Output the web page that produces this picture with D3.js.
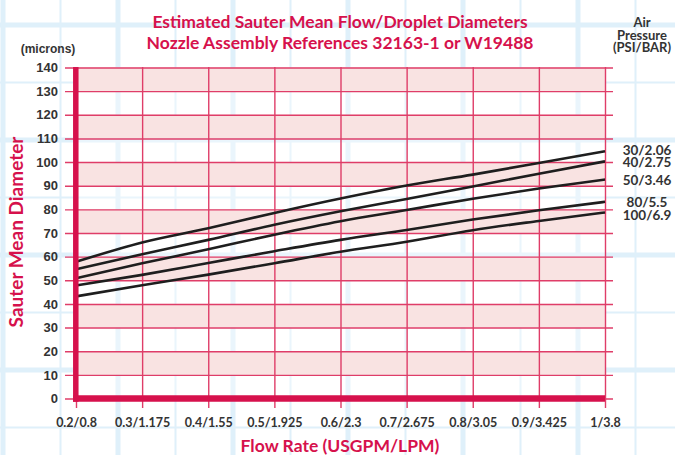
<!DOCTYPE html>
<html><head><meta charset="utf-8">
<script src="https://cdn.jsdelivr.net/npm/d3@7/dist/d3.min.js"></script>
<style>
html,body{margin:0;padding:0;background:#fff;}
svg{display:block;}
</style></head>
<body>
<svg id="chart" width="675" height="455"></svg>
<script>
// ---- data ----
const flowValues = [0.2, 0.3, 0.4, 0.5, 0.6, 0.7, 0.8, 0.9, 1.0];
const flowLabels = ["0.2/0.8", "0.3/1.175", "0.4/1.55", "0.5/1.925", "0.6/2.3", "0.7/2.675", "0.8/3.05", "0.9/3.425", "1/3.8"];
const yTicks = [0, 10, 20, 30, 40, 50, 60, 70, 80, 90, 100, 110, 120, 130, 140];
const seriesNames = ["30/2.06", "40/2.75", "50/3.46", "80/5.5", "100/6.9"];
const psi30 = [57.8, 66.0, 72.0, 78.5, 84.6, 90.1, 94.7, 99.6, 104.6];
const psi40 = [54.7, 61.0, 67.1, 73.5, 79.2, 84.4, 89.7, 95.1, 100.3];
const psi50 = [50.9, 57.2, 63.1, 69.3, 75.0, 79.7, 84.5, 88.8, 92.6];
const psi80 = [47.8, 52.3, 57.3, 62.3, 67.1, 71.3, 75.7, 79.6, 83.2];
const psi100 = [43.2, 47.9, 52.4, 57.2, 62.1, 66.3, 71.2, 75.1, 78.7];
const seriesValues = [psi30, psi40, psi50, psi80, psi100];
const labelYOffsets = [3.8, 5.9, 5.4, 4.9, 7.5];

// ---- setup ----
const svg = d3.select("#chart");
const RED = "#d6114c";
const GRID = "#df3d68";
const PINK = "#f9e3e2";
const BLUE = "#dff0fa";
const TEXT = "#333333";

const x = d3.scaleLinear().domain([0.2, 1.0]).range([76, 605]);
const y = d3.scaleLinear().domain([0, 140]).range([398.5, 67.5]);

// background graph-paper grid
const bg = svg.append("g");
d3.range(0, 12).forEach(k => {
  const px = 3 + 57.5 * k;
  bg.append("line").attr("x1", px).attr("x2", px).attr("y1", 0).attr("y2", 455)
    .attr("stroke", BLUE).attr("stroke-width", k % 2 === 0 ? 5 : 2);
});
d3.range(0, 8).forEach(k => {
  const py = 25 + 57.5 * k;
  bg.append("line").attr("x1", 0).attr("x2", 675).attr("y1", py).attr("y2", py)
    .attr("stroke", BLUE).attr("stroke-width", k % 2 === 0 ? 5 : 2);
});

// plot background: white + pink bands
svg.append("rect").attr("x", x(0.2)).attr("y", y(140)).attr("width", x(1) - x(0.2)).attr("height", y(0) - y(140))
  .attr("fill", "rgba(255,255,255,0.35)");
const bandStarts = yTicks.filter(v => v < 140 && Math.floor(v / 10) % 2 === 1);
svg.selectAll("rect.band").data(bandStarts).enter().append("rect").attr("class", "band")
  .attr("x", x(0.2)).attr("width", x(1) - x(0.2))
  .attr("y", d => y(d + 10)).attr("height", d => y(d) - y(d + 10))
  .attr("fill", PINK);

// y axis (labels + horizontal gridlines)
const yAxis = d3.axisLeft(y).tickValues(yTicks).tickSizeInner(-(613 - 65)).tickSizeOuter(0).tickPadding(7);
const gy = svg.append("g").attr("transform", "translate(65,0)").call(yAxis);
gy.select(".domain").remove();
gy.selectAll("line").attr("stroke", GRID).attr("stroke-width", 1.4);
gy.selectAll("text").attr("fill", TEXT).style("font-family", "'Liberation Sans', Arial, sans-serif")
  .style("font-weight", "bold").style("font-size", "13px");

// x axis (labels + vertical gridlines)
const xAxis = d3.axisBottom(x).tickValues(flowValues).tickFormat((d, i) => flowLabels[i])
  .tickSizeInner(-(408 - 67)).tickSizeOuter(0).tickPadding(10);
const gx = svg.append("g").attr("transform", "translate(0,408)").call(xAxis);
gx.select(".domain").remove();
gx.selectAll("line").attr("stroke", GRID).attr("stroke-width", 1.4);
gx.selectAll("text").attr("fill", TEXT).style("font-family", "Lato, 'Open Sans', sans-serif")
  .style("font-weight", "bold").style("font-size", "12.5px");

// series lines
const line = d3.line().x((d, i) => x(flowValues[i])).y(d => y(d)).curve(d3.curveMonotoneX);
svg.selectAll("path.series").data(seriesValues).enter().append("path").attr("class", "series")
  .attr("d", line).attr("fill", "none").attr("stroke", "#1e1e1e").attr("stroke-width", 2.6);

// thick axes
svg.append("line").attr("x1", 75.8).attr("x2", 75.8).attr("y1", 67).attr("y2", 401.7)
  .attr("stroke", RED).attr("stroke-width", 5.5);
svg.append("line").attr("x1", 73).attr("x2", x(1)).attr("y1", 398.4).attr("y2", 398.4)
  .attr("stroke", RED).attr("stroke-width", 6.5);

// series labels
svg.selectAll("text.slabel").data(seriesNames).enter().append("text").attr("class", "slabel")
  .attr("x", 647).attr("y", (d, i) => y(seriesValues[i][8]) + labelYOffsets[i])
  .attr("text-anchor", "middle").attr("fill", TEXT)
  .style("font-family", "Lato, 'Open Sans', sans-serif").style("font-weight", "bold").style("font-size", "13.5px")
  .text(d => d);

// titles
const titleFont = "Lato, 'Open Sans', sans-serif";
svg.append("text").attr("x", 340).attr("y", 28).attr("text-anchor", "middle").attr("fill", RED)
  .style("font-family", titleFont).style("font-weight", "bold").style("font-size", "17.5px")
  .text("Estimated Sauter Mean Flow/Droplet Diameters");
svg.append("text").attr("x", 340).attr("y", 49).attr("text-anchor", "middle").attr("fill", RED)
  .style("font-family", titleFont).style("font-weight", "bold").style("font-size", "17.5px")
  .text("Nozzle Assembly References 32163-1 or W19488");

svg.append("text").attr("x", 48).attr("y", 53).attr("text-anchor", "middle").attr("fill", TEXT)
  .style("font-family", "'Liberation Sans', Arial, sans-serif").style("font-weight", "bold").style("font-size", "12px")
  .text("(microns)");

const airLines = ["Air", "Pressure", "(PSI/BAR)"];
svg.selectAll("text.air").data(airLines).enter().append("text").attr("class", "air")
  .attr("x", 642).attr("y", (d, i) => 27 + i * 12.5).attr("text-anchor", "middle").attr("fill", TEXT)
  .style("font-family", titleFont).style("font-weight", "bold").style("font-size", "13px")
  .text(d => d);

svg.append("text").attr("x", 340).attr("y", 452).attr("text-anchor", "middle").attr("fill", RED)
  .style("font-family", titleFont).style("font-weight", "bold").style("font-size", "17.5px")
  .text("Flow Rate (USGPM/LPM)");

svg.append("text").attr("transform", "translate(23,232) rotate(-90)").attr("text-anchor", "middle").attr("fill", RED)
  .style("font-family", titleFont).style("font-weight", "bold").style("font-size", "19px")
  .text("Sauter Mean Diameter");
</script>
</body></html>
